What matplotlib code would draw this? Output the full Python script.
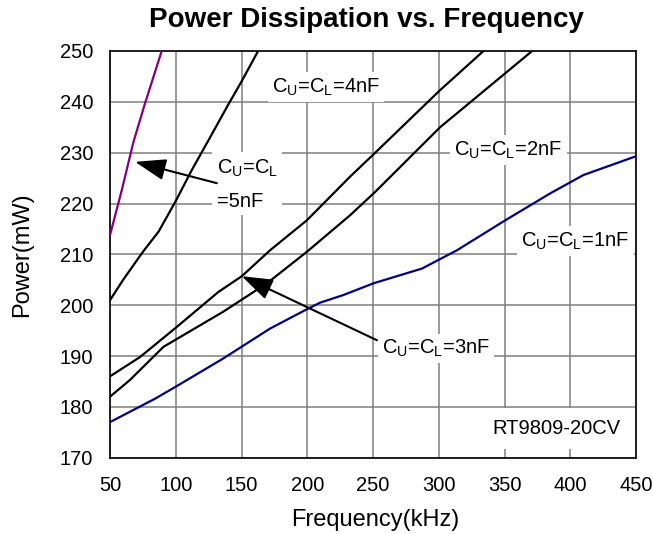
import matplotlib; matplotlib.use("Agg")
import matplotlib.pyplot as plt

plt.rcParams["font.family"] = ["Liberation Sans", "DejaVu Sans"]
plt.rcParams["mathtext.fontset"] = "custom"
plt.rcParams["mathtext.rm"] = "Liberation Sans"

# values (frequency kHz, power mW)
f_5nF = [50, 58.9, 67.7, 76.6, 89.3]
p_5nF = [213.8, 222.6, 232.0, 239.7, 250.0]

f_4nF = [50, 60, 75, 87, 100, 112, 125, 140, 150, 162.6]
p_4nF = [201.0, 205.0, 210.5, 214.5, 220.5, 226.5, 232.5, 239.5, 244.0, 250.0]

f_3nF = [50, 72.8, 100.2, 132.4, 150.2, 171.7, 199.7, 232.6, 251.7, 301, 334]
p_3nF = [186.0, 189.8, 195.6, 202.6, 205.7, 210.8, 216.7, 225.3, 230.0, 242.3, 250.0]

f_2nF = [50, 65.2, 90.6, 136, 169.3, 199.7, 232.6, 251.7, 301, 371]
p_2nF = [182.0, 185.3, 191.8, 198.7, 204.3, 210.5, 217.7, 222.3, 235.0, 250.0]

f_1nF = [50, 84.2, 100.2, 136, 171.7, 199.7, 209.8, 227.5, 250.3, 287.2, 313.8, 350.6, 384.8, 410, 450]
p_1nF = [177.0, 181.6, 184.0, 189.5, 195.4, 199.2, 200.5, 202.0, 204.3, 207.2, 210.8, 216.7, 222.0, 225.6, 229.3]

xticks = [50, 100, 150, 200, 250, 300, 350, 400, 450]
yticks = [170, 180, 190, 200, 210, 220, 230, 240, 250]

CU = r"C$_\mathregular{U}$=C$_\mathregular{L}$"

fig = plt.figure(figsize=(6.53, 5.34), dpi=100)
ax = fig.add_axes([0.1685, 0.1429, 0.8055, 0.7616])

ax.plot(f_5nF, p_5nF, color="#800080", lw=1.6, zorder=3)
ax.plot(f_4nF, p_4nF, color="black", lw=1.6, zorder=3)
ax.plot(f_3nF, p_3nF, color="black", lw=1.6, zorder=3)
ax.plot(f_2nF, p_2nF, color="black", lw=1.6, zorder=3)
ax.plot(f_1nF, p_1nF, color="#000080", lw=1.6, zorder=3)

ax.set_xlim(50, 450); ax.set_ylim(170, 250)
ax.set_xticks(xticks); ax.set_yticks(yticks)
ax.tick_params(length=0, labelsize=14.5)
ax.tick_params(axis="x", pad=13)
ax.tick_params(axis="y", pad=12)
ax.grid(True, color="#7f7f7f", lw=1.1, zorder=1)
ax.set_axisbelow(True)
for s in ax.spines.values():
    s.set_color("#111111"); s.set_linewidth(1.3)

ax.set_xlabel("Frequency(kHz)", fontsize=17)
ax.set_ylabel("Power(mW)", fontsize=17)
ax.xaxis.set_label_coords(0.504, -0.127)
ax.yaxis.set_label_coords(-0.146, 0.5)

fig.text(0.561, 0.962, "Power Dissipation vs. Frequency", ha="center", va="center",
         fontsize=20, fontweight="bold")

box = dict(facecolor="white", edgecolor="none", pad=3)
tk = dict(fontsize=14.5, ha="center", va="center", zorder=4, bbox=box)
ax.text(214.3, 242.9, CU + "=4nF", **tk)
ax.text(352.9, 230.5, CU + "=2nF", **tk)
ax.text(403.9, 212.6, CU + "=1nF", **tk)
ax.text(298, 191.5, CU + "=3nF", **tk)
ax.text(154.3, 223.8, CU + "\n=5nF", fontsize=14.5, ha="center", va="center",
        multialignment="left", linespacing=1.9, zorder=4, bbox=box)
ax.text(389.2, 175.8, "RT9809-20CV", fontsize=14.5, ha="center", va="center", zorder=4,
        bbox=dict(facecolor="white", edgecolor="none", pad=8))

arr = dict(arrowstyle="-|>,head_length=0.95,head_width=0.33", mutation_scale=20,
           color="black", lw=1.5, shrinkA=0, shrinkB=0)
ax.annotate("", xy=(69, 228.2), xytext=(131.2, 224), arrowprops=arr, zorder=5)
ax.annotate("", xy=(150.2, 205.7), xytext=(253, 193.1), arrowprops=arr, zorder=5)

fig.savefig("out.png", dpi=100)
